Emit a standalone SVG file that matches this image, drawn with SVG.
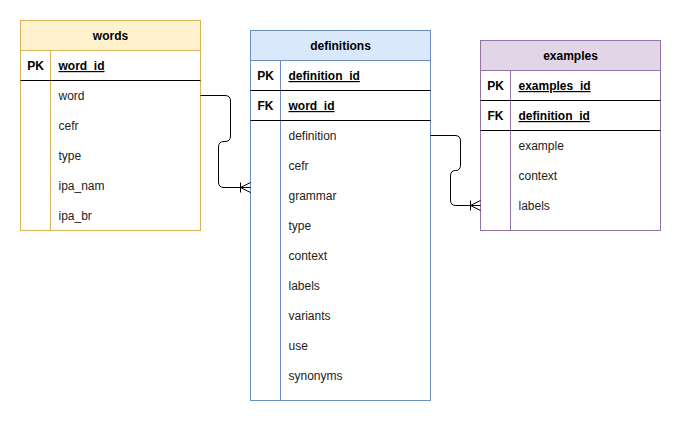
<svg xmlns="http://www.w3.org/2000/svg" width="681" height="421" viewBox="0 0 681 421">
<defs>
<marker id="erOneMany" markerUnits="userSpaceOnUse" markerWidth="14" markerHeight="14" refX="0" refY="0" orient="auto" overflow="visible">
<path d="M-10,-5 V5 M-10,0 L0,-5 M-10,0 L0,5" fill="none" stroke="#000" stroke-width="1"/>
</marker>
</defs>
<style>
text{font-family:"Liberation Sans",Arial,Helvetica,sans-serif;font-size:12px;fill:#000}
.f{fill:#222}
.h{font-weight:bold;text-anchor:middle}
.k{font-weight:bold;text-anchor:middle}
.pk{font-weight:bold;text-decoration:underline}
.sep{stroke:#000;stroke-width:1}
.edge{fill:none;stroke:#000;stroke-width:1}
</style>
<rect width="681" height="421" fill="#fff"/>

<g id="words">
<rect x="20.5" y="20.5" width="180" height="210" fill="#fff" stroke="#d6b656"/>
<rect x="20.5" y="20.5" width="180" height="30" fill="#fff2cc" stroke="#d6b656"/>
<line x1="50.5" y1="50.5" x2="50.5" y2="230.5" stroke="#d6b656"/>
<line class="sep" x1="20.5" y1="80.5" x2="200.5" y2="80.5"/>
<text class="h" x="110.5" y="40">words</text>
<text class="k" x="35.5" y="70">PK</text>
<text class="pk" x="58.5" y="70">word_id</text>
<text class="f" x="58.5" y="100">word</text>
<text class="f" x="58.5" y="130">cefr</text>
<text class="f" x="58.5" y="160">type</text>
<text class="f" x="58.5" y="190">ipa_nam</text>
<text class="f" x="58.5" y="220">ipa_br</text>
</g>

<g id="definitions">
<rect x="250.5" y="30.5" width="180" height="370" fill="#fff" stroke="#6c8ebf"/>
<rect x="250.5" y="30.5" width="180" height="30" fill="#dae8fc" stroke="#6c8ebf"/>
<line x1="280.5" y1="60.5" x2="280.5" y2="400.5" stroke="#6c8ebf"/>
<line class="sep" x1="250.5" y1="90.5" x2="430.5" y2="90.5"/>
<line class="sep" x1="250.5" y1="120.5" x2="430.5" y2="120.5"/>
<text class="h" x="340.5" y="50">definitions</text>
<text class="k" x="265.5" y="80">PK</text>
<text class="pk" x="288.5" y="80">definition_id</text>
<text class="k" x="265.5" y="110">FK</text>
<text class="pk" x="288.5" y="110">word_id</text>
<text class="f" x="288.5" y="140">definition</text>
<text class="f" x="288.5" y="170">cefr</text>
<text class="f" x="288.5" y="200">grammar</text>
<text class="f" x="288.5" y="230">type</text>
<text class="f" x="288.5" y="260">context</text>
<text class="f" x="288.5" y="290">labels</text>
<text class="f" x="288.5" y="320">variants</text>
<text class="f" x="288.5" y="350">use</text>
<text class="f" x="288.5" y="380">synonyms</text>
</g>

<g id="examples">
<rect x="480.5" y="40.5" width="180" height="190" fill="#fff" stroke="#9673a6"/>
<rect x="480.5" y="40.5" width="180" height="30" fill="#e1d5e7" stroke="#9673a6"/>
<line x1="510.5" y1="70.5" x2="510.5" y2="230.5" stroke="#9673a6"/>
<line class="sep" x1="480.5" y1="100.5" x2="660.5" y2="100.5"/>
<line class="sep" x1="480.5" y1="130.5" x2="660.5" y2="130.5"/>
<text class="h" x="570.5" y="60">examples</text>
<text class="k" x="495.5" y="90">PK</text>
<text class="pk" x="518.5" y="90">examples_id</text>
<text class="k" x="495.5" y="120">FK</text>
<text class="pk" x="518.5" y="120">definition_id</text>
<text class="f" x="518.5" y="150">example</text>
<text class="f" x="518.5" y="180">context</text>
<text class="f" x="518.5" y="210">labels</text>
</g>

<g id="connectors">
<path class="edge" d="M200.5,95.5 H225 Q230.5,95.5 230.5,101 V136 Q230.5,141.5 225,141.5 H224 Q218.5,141.5 218.5,147 V182 Q218.5,187.5 224,187.5 H250.5" marker-end="url(#erOneMany)"/>
<path class="edge" d="M430.5,135.5 H455 Q460.5,135.5 460.5,141 V165 Q460.5,170.5 455.5,170.5 Q450.5,170.5 450.5,176 V200 Q450.5,205.5 456,205.5 H480.5" marker-end="url(#erOneMany)"/>
</g>
</svg>
